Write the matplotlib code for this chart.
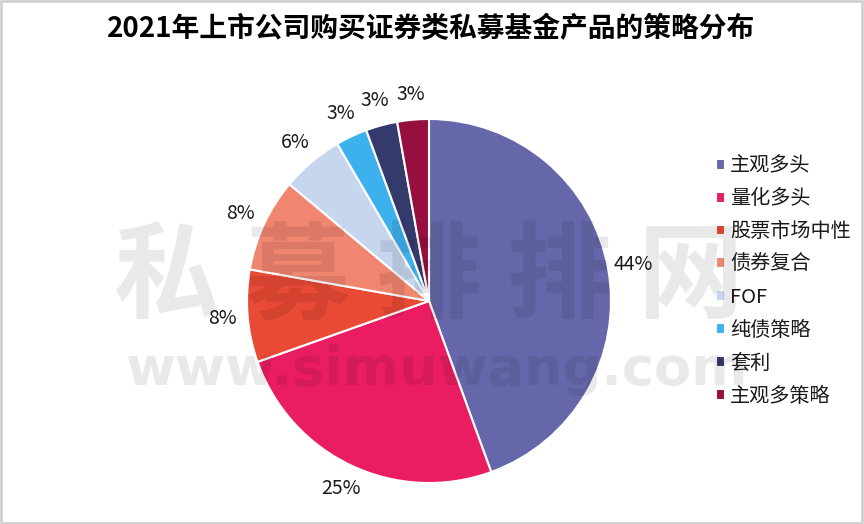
import matplotlib
matplotlib.use("Agg")
import matplotlib.pyplot as plt
from matplotlib.patches import Rectangle

plt.rcParams['font.family'] = ['Noto Sans CJK SC', 'DejaVu Sans']

title = "2021年上市公司购买证券类私募基金产品的策略分布"
categories = ["主观多头", "量化多头", "股票市场中性", "债券复合", "FOF", "纯债策略", "套利", "主观多策略"]
values = [44.4, 25.1, 8.2, 8.3, 5.5, 2.8, 2.8, 2.8]
colors = ["#6667AB", "#EA1D63", "#E84A35", "#F08570", "#C5D6EE", "#3DB0EE", "#343A6B", "#960F3E"]

W, H = 864, 524
fig = plt.figure(figsize=(W / 100, H / 100), dpi=100)
fig.patch.set_facecolor("white")

# pie axes: center (429, 301) px, radius 182 px, limits +-1.25
R = 182
size = R * 2.5
cx, cy = 429, H - 301
ax = fig.add_axes([(cx - size / 2) / W, (cy - size / 2) / H, size / W, size / H])
wedges, texts, autotexts = ax.pie(
    values, colors=colors, startangle=90, counterclock=False,
    autopct=lambda p: f"{p:.0f}%", pctdistance=1.14,
    wedgeprops=dict(edgecolor="white", linewidth=1.5),
    textprops=dict(fontsize=14, color="#1a1a1a"),
)
ax.set_xlim(-1.25, 1.25)
ax.set_ylim(-1.25, 1.25)
ax.set_aspect("equal")

fig.text(431 / W, 1 - 29 / H, title, ha="center", va="center",
         fontsize=20, fontweight="bold", color="#000000")

leg_fs = 14.5
leg = fig.legend(wedges, categories, loc="center left",
                 bbox_to_anchor=((716 - 0.4 * leg_fs * 100 / 72) / W, 1 - 281 / H),
                 frameon=False, borderaxespad=0,
                 fontsize=leg_fs, handlelength=0.45, handleheight=0.45,
                 handletextpad=0.25, labelspacing=0.59)
for t in leg.get_texts():
    t.set_color("#1a1a1a")

# watermark
wm = "私募排排网"
for i, ch in enumerate(wm):
    fig.text((167 + 131 * i) / W, 1 - 279 / H, ch, ha="center", va="center",
             fontsize=76, fontweight="heavy", color="black", alpha=0.085, zorder=10)
fig.text(436 / W, 1 - 385 / H, "www.simuwang.com", ha="center", va="baseline",
         fontsize=39, fontweight="bold", family="DejaVu Sans", color="black",
         alpha=0.085, zorder=10)

fig.add_artist(Rectangle((0.001, 0.002), 0.997, 0.996, transform=fig.transFigure,
                         fill=False, edgecolor="#d0d0d0", linewidth=2))

fig.savefig("out.png", dpi=100)
